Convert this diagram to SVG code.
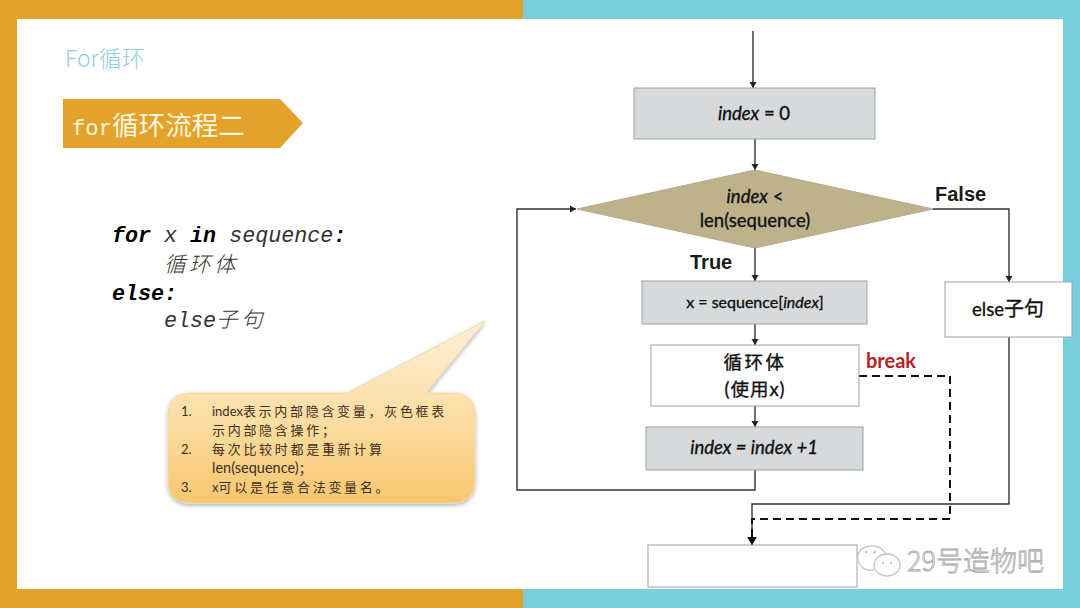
<svg xmlns="http://www.w3.org/2000/svg" width="1080" height="608" viewBox="0 0 1080 608">
<style>
.box{stroke:#8fa6a8;stroke-width:1}
.gray{fill:#d8d9da}
.white{fill:#fff}
.t{font-family:Lato,"Noto Sans CJK SC",sans-serif;fill:#111;font-weight:400;stroke:#111;stroke-width:0.35}
.c{text-anchor:middle}
.code{font-family:"Liberation Mono","Noto Sans CJK SC",monospace;font-size:21.7px;font-style:italic;fill:#333}
.cjk{font-size:21.5px;letter-spacing:3.5px;font-family:"Noto Sans CJK SC",sans-serif;font-weight:300}
.li{font-family:Lato,"Noto Sans CJK SC",sans-serif;font-size:13px;fill:#3a3020}
.z{font-size:13px;letter-spacing:2.7px;font-family:"Noto Sans CJK SC",sans-serif}
.w{font-size:18.5px}
.lbl{font-family:"Liberation Sans",sans-serif;font-size:20px;font-weight:bold;fill:#1a1a1a}
.line{fill:none;stroke:#333;stroke-width:1.4}
</style>
<defs>
<marker id="a" markerWidth="8" markerHeight="8" refX="7" refY="4" orient="auto" markerUnits="userSpaceOnUse"><path d="M1 0.5L7 4L1 7.5z" fill="#222"/></marker>
<marker id="b" markerWidth="10" markerHeight="10" refX="9" refY="5" orient="auto" markerUnits="userSpaceOnUse"><path d="M1 0L9 5L1 10z" fill="#111"/></marker>
<linearGradient id="cg" x1="0" y1="0" x2="0" y2="1"><stop offset="0" stop-color="#fdf1da"/><stop offset="0.6" stop-color="#fcdb9c"/><stop offset="1" stop-color="#f8c670"/></linearGradient>
<filter id="sh" x="-10%" y="-10%" width="120%" height="125%"><feDropShadow dx="0" dy="2" stdDeviation="2" flood-color="#000" flood-opacity="0.3"/></filter>
</defs>

<rect x="0" y="0" width="523" height="608" fill="#e3a22b"/>
<rect x="523" y="0" width="557" height="608" fill="#79cddd"/>
<rect x="17" y="19" width="1046" height="570" fill="#fff"/>

<g id="title"><text x="65" y="67" font-family="'Noto Sans CJK SC',sans-serif" font-size="23" font-weight="300" fill="#8fd0dc">For循环</text></g>
<g id="banner">
<path d="M63 99H280L303 123L280 148H63z" fill="#e3a22b"/>
<text x="72" y="135" font-family="'Liberation Mono','Noto Sans CJK SC',monospace" font-size="22.2" fill="#fff6dc">for<tspan font-family="'Noto Sans CJK SC',sans-serif" font-size="26.6">循环流程二</tspan></text>
</g>
<g id="code">
<text x="112" y="242" class="code"><tspan font-weight="bold" fill="#000">for</tspan> x <tspan font-weight="bold" fill="#000">in</tspan> sequence<tspan font-weight="bold" fill="#000">:</tspan></text>
<text x="164" y="272" class="code cjk">循环体</text>
<text x="112" y="300" class="code" font-weight="bold" style="fill:#000">else:</text>
<text x="164" y="327" class="code">else<tspan class="cjk">子句</tspan></text>
</g>
<g id="callout">
<path d="M190 393H347L485 321L426 393H452Q475 393 475 416V480Q475 503 452 503H190Q168 503 168 480V416Q168 393 190 393z" fill="url(#cg)" stroke="#f0d9a8" stroke-width="1" filter="url(#sh)"/>
<text x="181" y="416" class="li">1.</text>
<text x="212" y="416" class="li">index<tspan class="z">表示内部隐含变量，灰色框表</tspan></text>
<text x="212" y="435" class="li"><tspan class="z">示内部隐含操作；</tspan></text>
<text x="181" y="454" class="li">2.</text>
<text x="212" y="454" class="li"><tspan class="z">每次比较时都是重新计算</tspan></text>
<text x="212" y="473" class="li" style="font-size:14.5px">len(sequence)<tspan class="z">；</tspan></text>
<text x="181" y="492" class="li">3.</text>
<text x="212" y="492" class="li">x<tspan class="z">可以是任意合法变量名。</tspan></text>
</g>

<g id="connectors">
<path class="line" marker-end="url(#a)" d="M753 31V88"/>
<path class="line" marker-end="url(#a)" d="M755 139V170"/>
<path class="line" marker-end="url(#a)" d="M755 248V281"/>
<path class="line" marker-end="url(#a)" d="M755 324V345"/>
<path class="line" marker-end="url(#a)" d="M755 406V427"/>
<path class="line" marker-end="url(#a)" d="M755 470V490H517V209H576"/>
<path class="line" marker-end="url(#a)" d="M933 209H1009V282"/>
<path class="line" marker-end="url(#b)" d="M1009 337V504H752V545"/>
<path fill="none" stroke="#111" stroke-width="2" stroke-dasharray="8 5" d="M859 376H950V519H752V545"/>
</g>

<g id="n-init"><rect class="box gray" x="634" y="88" width="241" height="51"/>
<text x="754" y="120" class="t c w"><tspan font-style="italic">index</tspan> = 0</text></g>
<g id="n-cond"><path d="M577 209L755 170L933 209L755 248z" fill="#bdb28c" stroke="#b5ab88"/>
<text x="755" y="203" class="t c w"><tspan font-style="italic">index</tspan> &lt;</text>
<text x="755" y="227" class="t c w">len(sequence)</text></g>
<g id="n-assign"><rect class="box gray" x="642" y="281" width="225" height="43"/>
<text x="755" y="308" class="t c" font-size="16">x = sequence[<tspan font-style="italic">index</tspan>]</text></g>
<g id="n-else"><rect class="box white" x="945" y="282" width="127" height="55"/>
<text x="1008" y="316" class="t c" font-size="18.5">else<tspan font-size="20">子句</tspan></text></g>
<g id="n-body"><rect class="box white" x="651" y="345" width="208" height="61"/>
<text x="755" y="369" class="t c" font-size="18.5" letter-spacing="2.5">循环体</text>
<text x="755" y="396" class="t c" font-size="18.5" letter-spacing="1">(使用x)</text></g>
<g id="n-inc"><rect class="box gray" x="646" y="427" width="217" height="43"/>
<text x="754" y="454" class="t c" font-size="18.5" font-style="italic">index = index +1</text></g>
<g id="n-end"><rect class="box white" x="648" y="545" width="209" height="42"/></g>

<g id="labels">
<text x="935" y="201" class="lbl">False</text>
<text x="690" y="269" class="lbl">True</text>
<text x="866" y="368" font-family="Lato,sans-serif" font-size="20" font-weight="bold" fill="#b8222a">break</text>
</g>

<g id="watermark">
<path d="M885 563C889 552 880 545 870 546C860 547 855 555 859 563C862 569 868 571 874 570" fill="#fff" stroke="#c4c4c4" stroke-width="1.3"/>
<ellipse cx="887" cy="565" rx="13" ry="11" fill="#fff" stroke="#c4c4c4" stroke-width="1.3"/>
<circle cx="866" cy="552" r="1.3" fill="#c4c4c4"/><circle cx="875" cy="552" r="1.3" fill="#c4c4c4"/>
<circle cx="883" cy="563" r="1.2" fill="#c4c4c4"/><circle cx="891" cy="563" r="1.2" fill="#c4c4c4"/>
<text x="907" y="571" font-family="'Noto Sans CJK SC',sans-serif" font-size="27" font-weight="300" fill="#fff" stroke="#a8a8a8" stroke-width="0.8">29号造物吧</text>
</g>
</svg>
